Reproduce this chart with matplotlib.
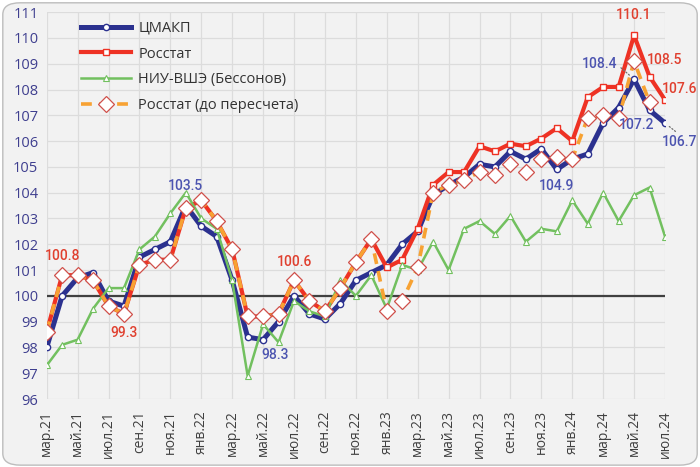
import numpy as np
import matplotlib
matplotlib.use('Agg')
import matplotlib.pyplot as plt
from matplotlib import font_manager
from matplotlib.patches import FancyBboxPatch

# Месяцы мар.21 - июл.24
month_names = ['янв', 'фев', 'мар', 'апр', 'май', 'июн',
               'июл', 'авг', 'сен', 'окт', 'ноя', 'дек']
months = []
for k in range(41):
    m = (2 + k) % 12
    y = 21 + (2 + k) // 12
    months.append(f'{month_names[m]}.{y}')

cmakp = [98.0, 100.0, 100.7, 100.9, 99.8, 99.6, 101.5, 101.8, 102.1, 103.5,
         102.7, 102.3, 100.6, 98.4, 98.3, 99.0, 100.0, 99.3, 99.1, 99.7,
         100.6, 100.9, 101.2, 102.0, 102.5, 103.9, 104.3, 104.6, 105.1, 105.0,
         105.6, 105.3, 105.7, 104.9, 105.3, 105.5, 106.7, 107.3, 108.4, 107.2,
         106.7]
rosstat = [98.6, 100.8, 100.8, 100.6, 99.6, 99.3, 101.2, 101.4, 101.4, 103.4,
           103.7, 102.9, 101.8, 99.2, 99.2, 99.3, 100.6, 99.8, 99.4, 100.3,
           101.3, 102.2, 101.1, 101.4, 102.6, 104.3, 104.8, 104.8, 105.8, 105.6,
           105.9, 105.8, 106.1, 106.5, 106.0, 107.7, 108.1, 108.1, 110.1, 108.5,
           107.6]
hse = [97.3, 98.1, 98.3, 99.5, 100.3, 100.3, 101.8, 102.3, 103.2, 104.0,
       103.0, 102.6, 100.6, 96.9, 98.9, 98.2, 99.8, 99.4, 99.2, 100.6,
       100.0, 100.8, 99.5, 101.2, 101.0, 102.1, 101.0, 102.6, 102.9, 102.4,
       103.1, 102.1, 102.6, 102.5, 103.7, 102.8, 104.0, 102.9, 103.9, 104.2,
       102.3]
rosstat_old = [98.6, 100.8, 100.8, 100.6, 99.6, 99.3, 101.2, 101.4, 101.4, 103.4,
               103.7, 102.9, 101.8, 99.2, 99.2, 99.3, 100.6, 99.8, 99.4, 100.3,
               101.3, 102.2, 99.4, 99.8, 101.1, 104.0, 104.3, 104.5, 104.8, 104.7,
               105.1, 104.8, 105.3, 105.4, 105.3, 106.9, 107.0, 106.9, 109.1, 107.5,
               np.nan]

names = [f.name for f in font_manager.fontManager.ttflist]
main_font = 'Open Sans' if 'Open Sans' in names else 'DejaVu Sans'
lab_font = 'Liberation Sans Narrow' if 'Liberation Sans Narrow' in names else 'Roboto'
plt.rcParams['font.family'] = [main_font, 'DejaVu Sans']

navy = '#2B318F'
red = '#EE3224'
green = '#72C05F'
orange = '#F7A233'
lab_red = '#E0402F'
lab_blue = '#4C54B0'

fig = plt.figure(figsize=(7, 4.67), dpi=100)
fig.patch.set_facecolor('white')
bg = FancyBboxPatch((0.004, 0.004), 0.992, 0.99, boxstyle='round,pad=0,rounding_size=0.025',
                    transform=fig.transFigure, facecolor='#F2F2F2', edgecolor='#BDBDBD',
                    linewidth=1.0, zorder=-10)
fig.patches.append(bg)

ax = fig.add_axes([0.0667, 0.1456, 0.8833, 0.8284])
ax.set_facecolor('#F2F2F2')
x = np.arange(len(months))

ax.plot(x, cmakp, color=navy, lw=3.6, marker='o', ms=4.5, mfc='white', mec=navy,
        mew=1.0, label='ЦМАКП', zorder=3)
ax.plot(x, rosstat, color=red, lw=3.0, marker='s', ms=4, mfc='white', mec=red,
        mew=1.0, label='Росстат', zorder=4)
ax.plot(x, hse, color=green, lw=1.8, marker='^', ms=4, mfc='white', mec=green,
        mew=0.8, label='НИУ-ВШЭ (Бессонов)', zorder=5)
ax.plot(x, rosstat_old, color=orange, lw=2.6, ls=(0, (3, 2)), marker='D', ms=8,
        mfc='white', mec='#D0504A', mew=0.9, label='Росстат (до пересчета)', zorder=6)

ax.axhline(100, color='#404040', lw=1.6, zorder=2)

ax.set_xlim(0, 40)
ax.set_ylim(96, 111)
ax.set_yticks(np.arange(96, 112, 1))
ax.set_xticks(x[::2])
ax.set_xticklabels(months[::2], rotation=90, fontsize=10, color='#404040')
ax.tick_params(axis='y', labelsize=10.5, labelcolor='#3F3F8F', length=0, pad=6)
ax.tick_params(axis='x', length=0, pad=8)
ax.grid(True, color='#DCDCDC', lw=0.9)
ax.set_axisbelow(True)
for s in ax.spines.values():
    s.set_visible(False)

# Подписи значений
def lab(i, val, dx, dy, col, ha='center'):
    ax.annotate(f'{val:.1f}', (x[i], val), xytext=(dx, dy), textcoords='offset points',
                ha=ha, va='center', color=col, fontsize=10, family=lab_font,
                fontweight='medium', zorder=10, annotation_clip=False)

lab(1, rosstat[1], 0, 13.5, lab_red)
lab(5, rosstat[5], 0, -13.7, lab_red)
lab(9, cmakp[9], 0, 14.4, lab_blue)
lab(16, rosstat[16], 0, 13.5, lab_red)
lab(14, cmakp[14], 8.6, -10.8, lab_blue)
lab(33, cmakp[33], 0, -12.2, lab_blue)
lab(38, rosstat[38], 0, 15, lab_red)
lab(39, rosstat[39], 11, 12.2, lab_red)
lab(40, rosstat[40], 10.8, 8, lab_red)
lab(39, cmakp[39], -9.4, -11, lab_blue)

# подписи с выносками
ax.annotate('108.4', (x[38], cmakp[38]), xytext=(-25, 10.6), textcoords='offset points',
            ha='center', va='center', color=lab_blue, fontsize=10, family=lab_font,
            fontweight='medium', zorder=10,
            arrowprops=dict(arrowstyle='-', color='#707070', ls=':', lw=0.9,
                            shrinkA=1, shrinkB=4, relpos=(1.0, 0.5)))
ax.annotate('106.7', (x[40], cmakp[40]), xytext=(10.8, -13.7), textcoords='offset points',
            ha='center', va='center', color=lab_blue, fontsize=10, family=lab_font,
            fontweight='medium', zorder=10, annotation_clip=False,
            arrowprops=dict(arrowstyle='-', color='#707070', ls=':', lw=0.9,
                            shrinkA=1, shrinkB=3, relpos=(0.5, 1.0)))

leg = ax.legend(loc='upper left', bbox_to_anchor=(0.035, 1.012), frameon=False,
                fontsize=10.5, handlelength=3.4, handletextpad=0.5, labelspacing=0.75)
for t in leg.get_texts():
    t.set_color('#333333')

fig.savefig('out.png', dpi=100, facecolor=fig.get_facecolor())
